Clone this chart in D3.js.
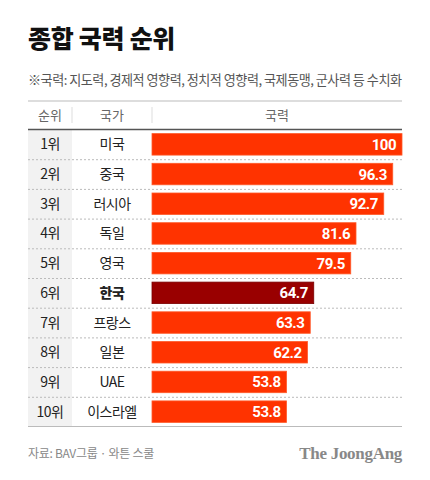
<!DOCTYPE html>
<html><head><meta charset="utf-8">
<script src="https://cdn.jsdelivr.net/npm/d3@7"></script>
<style>
body{margin:0;background:#fff;}
svg{display:block;font-family:"Noto Sans CJK KR","Noto Sans",sans-serif;}
</style></head>
<body>
<svg id="chart" width="430" height="480"></svg>
<script>
const ranks = ["1위","2위","3위","4위","5위","6위","7위","8위","9위","10위"];
const countries = ["미국","중국","러시아","독일","영국","한국","프랑스","일본","UAE","이스라엘"];
const values = [100, 96.3, 92.7, 81.6, 79.5, 64.7, 63.3, 62.2, 53.8, 53.8];
const highlight = "한국";
const headers = ["순위","국가","국력"];

const svg = d3.select("#chart");
const left = 28, right = 402, tableTop = 101, headerBottom = 129.5, tableBottom = 426.5;
const rankX0 = 28, rankX1 = 72, countryX1 = 152;

svg.append("text").attr("x", 28).attr("y", 48)
  .attr("font-size", 25).attr("font-weight", 900).attr("fill", "#111")
  .attr("letter-spacing", -0.3)
  .text("종합 국력 순위");
svg.append("text").attr("x", 28).attr("y", 85)
  .attr("font-size", 13.1).attr("fill", "#555").attr("letter-spacing", -0.5)
  .text("※국력: 지도력, 경제적 영향력, 정치적 영향력, 국제동맹, 군사력 등 수치화");

const y = d3.scaleBand().domain(countries).range([headerBottom, tableBottom]).paddingInner(0).paddingOuter(0);
const x = d3.scaleLinear().domain([0, 100]).range([countryX1, right]);

svg.append("rect").attr("x", rankX0).attr("y", headerBottom).attr("width", rankX1 - rankX0)
  .attr("height", tableBottom - headerBottom).attr("fill", "#f2f2f2");

svg.append("line").attr("x1", left).attr("x2", right).attr("y1", tableTop).attr("y2", tableTop)
  .attr("stroke", "#bbb").attr("stroke-width", 1);
[rankX1, countryX1].forEach(sx => {
  svg.append("line").attr("x1", sx).attr("x2", sx).attr("y1", 107).attr("y2", 123)
    .attr("stroke", "#ddd").attr("stroke-width", 1);
});
const hx = [(rankX0 + rankX1) / 2, (rankX1 + countryX1) / 2, (countryX1 + right) / 2];
headers.forEach((h, i) => {
  svg.append("text").attr("x", hx[i]).attr("y", 120).attr("text-anchor", "middle")
    .attr("font-size", 13).attr("fill", "#666").text(h);
});
svg.append("line").attr("x1", left).attr("x2", right).attr("y1", headerBottom).attr("y2", headerBottom)
  .attr("stroke", "#555").attr("stroke-width", 1.5);

const g = svg.append("g");
countries.slice(1).forEach(c => {
  g.append("line").attr("x1", left).attr("x2", right)
    .attr("y1", y(c) + 0.5).attr("y2", y(c) + 0.5)
    .attr("stroke", "#bbb").attr("stroke-width", 1).attr("stroke-dasharray", "2,2");
});
svg.append("line").attr("x1", left).attr("x2", right).attr("y1", tableBottom).attr("y2", tableBottom)
  .attr("stroke", "#bbb").attr("stroke-width", 1);

const barH = 21.5;
const rows = svg.append("g").selectAll("g").data(countries).join("g")
  .attr("transform", c => `translate(0,${y(c) + y.bandwidth() / 2})`);

rows.append("rect")
  .attr("x", x(0)).attr("y", -barH / 2)
  .attr("width", (c, i) => x(values[i]) - x(0)).attr("height", barH)
  .attr("fill", c => c === highlight ? "#990000" : "#ff3300")
  .attr("stroke", c => c === highlight ? "#7a0000" : "#ff5a2a").attr("stroke-width", 0.8);

rows.append("text").attr("x", (c, i) => x(values[i]) - 6).attr("y", 5.5)
  .attr("text-anchor", "end").attr("font-size", 15).attr("font-weight", 700)
  .attr("fill", "#fff").attr("font-family", "Roboto, 'Noto Sans', sans-serif").attr("letter-spacing", -0.5)
  .text((c, i) => values[i]);

rows.append("text").attr("x", (rankX0 + rankX1) / 2).attr("y", 5)
  .attr("text-anchor", "middle").attr("font-size", 14).attr("fill", "#222")
  .attr("letter-spacing", -0.5)
  .text((c, i) => ranks[i]);

rows.append("text").attr("x", (rankX1 + countryX1) / 2).attr("y", 5)
  .attr("text-anchor", "middle").attr("font-size", 14)
  .attr("font-weight", c => c === highlight ? 900 : 400).attr("fill", "#222")
  .attr("letter-spacing", -0.5)
  .text(c => c);

svg.append("text").attr("x", 28).attr("y", 458).attr("font-size", 12).attr("fill", "#888")
  .attr("letter-spacing", -0.3)
  .text("자료: BAV그룹 · 와튼 스쿨");
svg.append("text").attr("x", right).attr("y", 459).attr("text-anchor", "end")
  .attr("font-size", 17).attr("font-weight", 700).attr("fill", "#888")
  .attr("font-family", "'Liberation Serif', 'DejaVu Serif', serif").attr("letter-spacing", -0.3)
  .text("The JoongAng");
</script>
</body></html>
